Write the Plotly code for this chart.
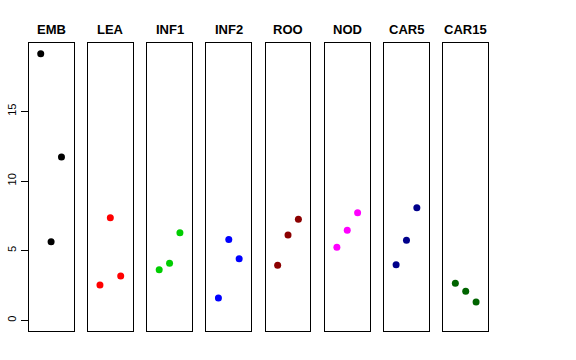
import plotly.graph_objects as go

panels = ["EMB", "LEA", "INF1", "INF2", "ROO", "NOD", "CAR5", "CAR15"]
colors = ["#000000", "#FF0000", "#00CD00", "#0000FF", "#8B0000", "#FF00FF", "#00008B", "#006400"]
x_pos = [1, 2, 3]
emb = [19.14, 5.64, 11.72]
lea = [2.53, 7.37, 3.18]
inf1 = [3.63, 4.09, 6.29]
inf2 = [1.60, 5.81, 4.42]
roo = [3.95, 6.12, 7.25]
nod = [5.24, 6.46, 7.72]
car5 = [3.99, 5.74, 8.08]
car15 = [2.66, 2.08, 1.31]
series = [emb, lea, inf1, inf2, roo, nod, car5, car15]
y_ticks = [0, 5, 10, 15]

W, H = 576, 360
ymax = max(max(s) for s in series)
ymin = 0
ext = (ymax - ymin) * 0.04
y_range = [ymin - ext, ymax + ext]
x_range = [0 - 0.16, 4 + 0.16]

fig = go.Figure()
left0 = 28.7
pitch = 59.23
pw = 44.8
ytop, ybot = 43, 331
ydom = [(H - ybot) / H, (H - ytop) / H]

for i, (name, col, vals) in enumerate(zip(panels, colors, series)):
    k = "" if i == 0 else str(i + 1)
    fig.add_trace(go.Scatter(x=x_pos, y=vals, mode="markers",
                             marker=dict(color=col, size=7),
                             xaxis="x" + k, yaxis="y" + k, showlegend=False,
                             hoverinfo="skip"))
    x0 = (left0 + i * pitch) / W
    x1 = (left0 + i * pitch + pw) / W
    fig.layout["xaxis" + k] = dict(domain=[x0, x1], range=x_range, showgrid=False,
                                   zeroline=False, showticklabels=False, ticks="",
                                   showline=True, mirror=True, linecolor="black",
                                   linewidth=1, anchor="y" + k, fixedrange=True)
    yax = dict(domain=ydom, range=y_range, showgrid=False, zeroline=False,
               showline=True, mirror=True, linecolor="black", linewidth=1,
               anchor="x" + k, fixedrange=True)
    if i == 0:
        yax.update(tickvals=y_ticks, ticktext=[str(v) for v in y_ticks],
                   ticks="outside", ticklen=7, tickcolor="black", tickwidth=1,
                   tickangle=-90, tickfont=dict(family="Liberation Sans, Arial", size=11, color="black"))
    else:
        yax.update(showticklabels=False, ticks="")
    fig.layout["yaxis" + k] = yax
    fig.add_annotation(x=(x0 + x1) / 2, y=(H - 29) / H, xref="paper", yref="paper",
                       text="<b>" + name + "</b>", showarrow=False,
                       font=dict(family="Liberation Sans, Arial", size=13, color="black"),
                       xanchor="center", yanchor="middle")

fig.update_layout(width=W, height=H, margin=dict(l=0, r=0, t=0, b=0),
                  paper_bgcolor="white", plot_bgcolor="white")
fig.write_html("out.html", config={"displayModeBar": False, "staticPlot": True},
               post_script="document.body.style.margin='0';document.body.style.overflow='hidden';")
